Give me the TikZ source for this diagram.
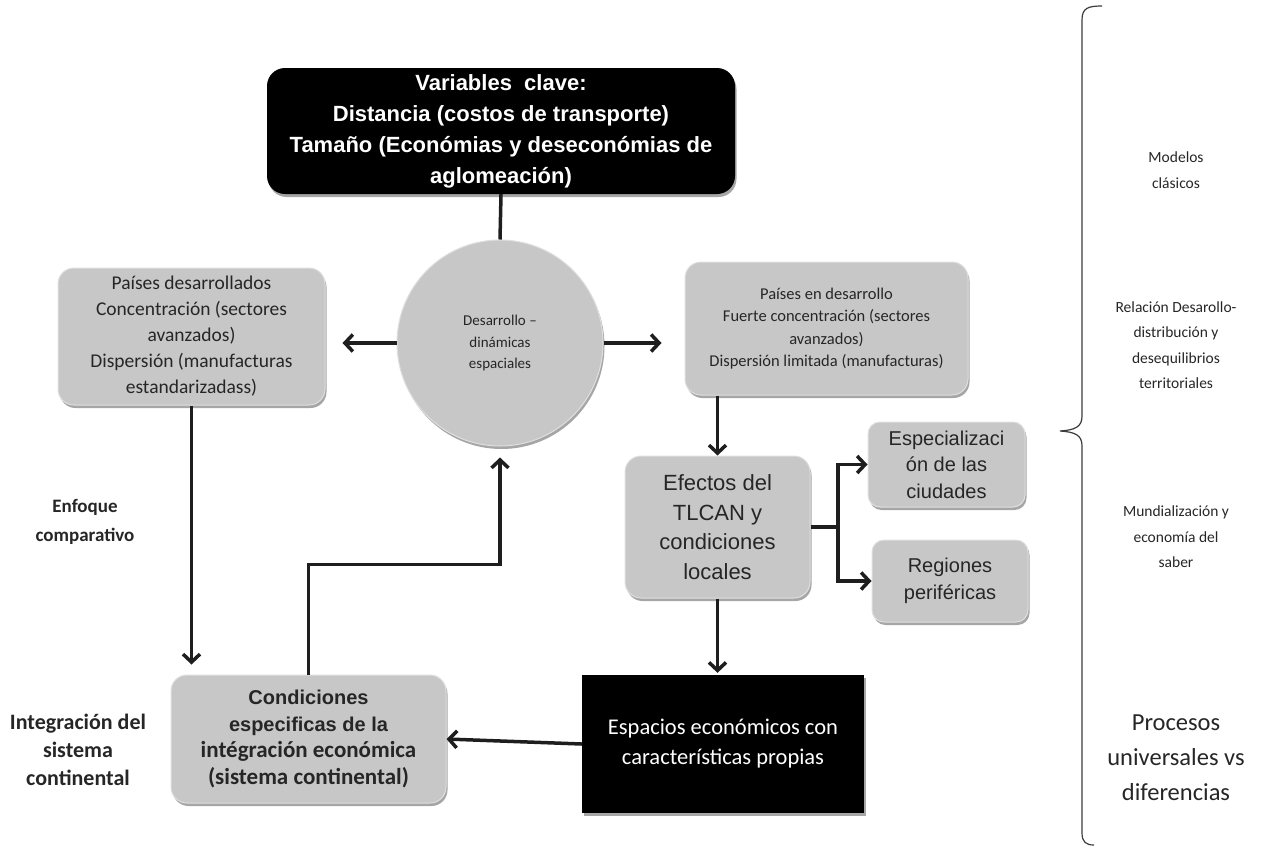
\documentclass[tikz,border=0pt]{standalone}
\usepackage{fontspec}
\setmainfont{Carlito}
\newfontfamily\arial{Liberation Sans}
\newfontfamily\calibri{Carlito}
\usetikzlibrary{arrows.meta,shadows}
\definecolor{boxgray}{RGB}{199,199,199}
\definecolor{ink}{RGB}{30,30,30}
\definecolor{bracegray}{RGB}{60,60,60}

\begin{document}
\begin{tikzpicture}[x=1pt,y=-1pt,
  boxshadow/.style={drop shadow={shadow xshift=1.5pt,shadow yshift=-3pt,opacity=0.35,fill=black}},
  graybox/.style={rectangle, rounded corners=16pt, fill=boxgray, draw=white!75!gray,
    line width=1pt, boxshadow, align=center, inner sep=3pt, text=black!85},
  blackbox/.style={rectangle, fill=black, align=center, text=white, inner sep=3pt},
  arr/.style={draw=ink, line width=3.5pt, -{Straight Barb[length=8pt,width=17pt]}},
  link/.style={draw=ink, line width=3.5pt},
  sidelabel/.style={align=center, text=black!85, font=\calibri\fontsize{15.5}{25.5}\selectfont},
]
\useasboundingbox (0,0) rectangle (1273,852);

% key variables
\node[blackbox, rounded corners=18pt, minimum width=468pt, minimum height=126pt,
  boxshadow, font=\arial\bfseries\fontsize{22}{31}\selectfont] (top) at (501,131)
  {Variables\ \ clave:\\Distancia (costos de transporte)\\Tamaño (Económias y deseconómias de\\aglomeación)};

% central circle
\node[circle, fill=boxgray, draw=white!75!gray, line width=1pt, boxshadow,
  minimum size=206pt, align=center, text=black!85,
  font=\calibri\fontsize{15}{21.5}\selectfont] (circ) at (500,343)
  {Desarrollo –\\dinámicas\\espaciales};

% country groups
\node[graybox, minimum width=267pt, minimum height=137pt,
  font=\calibri\fontsize{19.5}{26}\selectfont] (pd) at (191.5,336.5)
  {Países desarrollados\\Concentración (sectores\\avanzados)\\Dispersión (manufacturas\\estandarizadass)};
\node[graybox, minimum width=283pt, minimum height=133pt,
  font=\calibri\fontsize{16.5}{22.5}\selectfont] (ped) at (826.5,328.5)
  {Países en desarrollo\\Fuerte concentración (sectores\\avanzados)\\Dispersión limitada (manufacturas)};

% effects and their outcomes
\node[graybox, minimum width=185pt, minimum height=142pt,
  font=\arial\fontsize{22}{29.5}\selectfont] (eff) at (717.5,527)
  {Efectos del\\TLCAN y\\condiciones\\locales};
\node[graybox, rounded corners=12pt, minimum width=157pt, minimum height=85pt,
  font=\arial\fontsize{20}{26.5}\selectfont] (esp) at (946.5,464.5)
  {Especializaci\\ón de las\\ciudades};
\node[graybox, rounded corners=12pt, minimum width=156pt, minimum height=82pt,
  font=\arial\fontsize{20}{27.5}\selectfont] (reg) at (950,581)
  {Regiones\\periféricas};

% economic spaces and continental integration
\node[blackbox, minimum width=282pt, minimum height=138pt, boxshadow,
  font=\calibri\fontsize{22.5}{30}\selectfont] (espa) at (723,744)
  {Espacios económicos con\\características propias};
\node[graybox, minimum width=275pt, minimum height=128pt,
  font=\calibri\bfseries\fontsize{23}{26.8}\selectfont] (cond) at (308.5,739)
  {{\arial\bfseries\fontsize{20}{26.8}\selectfont Condiciones}\\{\arial\bfseries\fontsize{20}{26.8}\selectfont especificas de la}\\intégración económica\\(sistema continental)};

% left-hand labels
\node[align=center, text=black!85, font=\calibri\bfseries\fontsize{19}{29}\selectfont] (enf) at (85,522)
  {Enfoque\\comparativo};
\node[align=center, text=black!85, font=\calibri\bfseries\fontsize{22}{28}\selectfont] (integ) at (78,750)
  {Integración del\\sistema\\continental};

% right-hand labels
\node[sidelabel] (m1) at (1176,170) {Modelos\\clásicos};
\node[sidelabel] (m2) at (1176,345) {Relación Desarollo-\\distribución y\\desequilibrios\\territoriales};
\node[sidelabel] (m3) at (1176,537) {Mundialización y\\economía del\\saber};
\node[sidelabel, font=\calibri\fontsize{24.5}{35}\selectfont] (m4) at (1176,758)
  {Procesos\\universales vs\\diferencias};

% brace
\draw[bracegray, line width=1.2pt]
  (1102,6) .. controls (1088,6) and (1082,8) .. (1082,20) -- (1082,416)
  .. controls (1082,427) and (1075,430) .. (1060,431)
  .. controls (1075,432) and (1082,435) .. (1082,446) -- (1082,833)
  .. controls (1082,842) and (1086,845) .. (1094,845);

% connectors
\draw[link] (top.south) -- (circ.north);
\draw[arr, shorten >=17pt] (circ.west) -- (circ.west -| pd.east);
\draw[arr, shorten >=23pt] (circ.east) -- (circ.east -| ped.west);
\draw[arr] (eff.north |- ped.south) -- (eff.north);
\coordinate (j) at (838,527);
\draw[link] (eff.east) -- (j);
\draw[arr] (j) |- (esp.west);
\draw[arr] (j) |- (reg.west);
\draw[arr, shorten >=2pt] (eff.south) -- (eff.south |- espa.north);
\draw[arr] (espa.west) -- (cond.east);
\draw[arr, shorten >=10pt] (pd.south) -- (pd.south |- cond.north);
\draw[arr, shorten >=11pt] (cond.north) -- ++(0,-110) -| (circ.south);
\end{tikzpicture}
\end{document}
